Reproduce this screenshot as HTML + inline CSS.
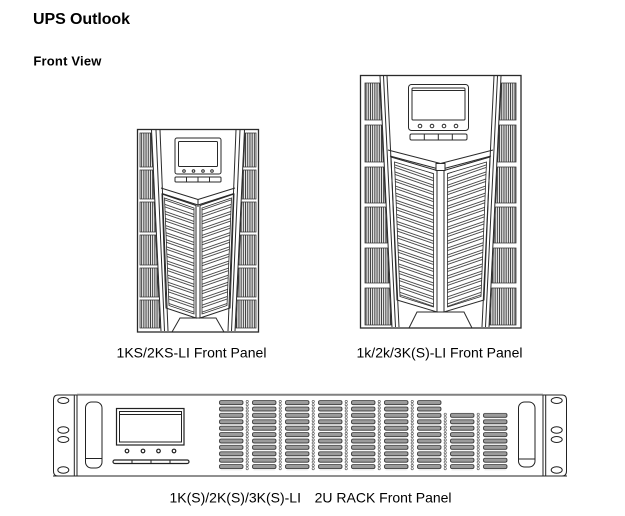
<!DOCTYPE html>
<html><head><meta charset="utf-8"><style>
html,body{margin:0;padding:0;background:#fff;}
svg{display:block;}
text{font-family:"Liberation Sans",Arial,sans-serif;fill:#000;}
</style></head><body>
<svg width="625" height="516" viewBox="0 0 625 516" xmlns="http://www.w3.org/2000/svg">
<defs>
<pattern id="vs" x="0" y="0" width="2.2" height="10" patternUnits="userSpaceOnUse"><rect x="0.3" y="0" width="1.1" height="10" fill="#3a3a3a"/></pattern>
<pattern id="lv" width="12" height="6.6" patternUnits="userSpaceOnUse" patternTransform="rotate(19)"><path d="M0 1H12M0 3.4H12" stroke="#333" stroke-width="0.8" fill="none"/></pattern>
<pattern id="rk" x="219" y="400" width="33" height="6.4" patternUnits="userSpaceOnUse">
<rect x="0.5" y="0.6" width="23.5" height="4" rx="1.6" fill="#9c9c9c" stroke="#2a2a2a" stroke-width="0.8"/>
<circle cx="28.2" cy="1.5" r="1.15" fill="#fff" stroke="#444" stroke-width="0.6"/>
<circle cx="28.2" cy="4.6" r="1.15" fill="#fff" stroke="#444" stroke-width="0.6"/>
</pattern>
</defs>

<!-- Titles -->
<text x="33" y="24" font-size="16" font-weight="bold" textLength="97">UPS Outlook</text>
<text x="33.4" y="65.5" font-size="13" font-weight="bold" textLength="68">Front View</text>

<!-- Small tower -->
<g fill="none" stroke="#2a2a2a" stroke-width="1">
<rect x="137.5" y="129.5" width="121" height="202.5" stroke-width="1.3"/>
<g id="sL">
 <g fill="url(#vs)" stroke="#333" stroke-width="0.8">
  <polygon points="140,133 150.9,133 152.5,167 140,167"/>
  <polygon points="140,170 152.6,170 154,199 140,199"/>
  <polygon points="140,202 154.1,202 155.5,232 140,232"/>
  <polygon points="140,235 155.7,235 157.1,265 140,265"/>
  <polygon points="140,268 157.2,268 158.6,297 140,297"/>
  <polygon points="140,300 158.7,300 160,328 140,328"/>
 </g>
 <path d="M151.5,130 L161,331 M156,130 L164.5,331 M160,130 L168,331"/>
 <path d="M161,188 L198,199.5 M162,193.5 L198,205"/>
 <polygon points="162,194 196,205.5 196,318 166,308"/>
 <polygon points="164.5,198 194,208 194,314 169,305.5" fill="url(#lv)" stroke-width="0.8"/>
</g>
<use href="#sL" transform="matrix(-1,0,0,1,396,0)"/>
<rect x="175" y="138" width="46" height="36" rx="2"/>
<rect x="178.5" y="141.5" width="39" height="25" rx="1"/>
<g fill="#fff" stroke-width="1"><circle cx="184" cy="171" r="1.3"/><circle cx="193.5" cy="171" r="1.3"/><circle cx="203" cy="171" r="1.3"/><circle cx="212" cy="171" r="1.3"/></g>
<rect x="175" y="177" width="46" height="5" rx="1"/>
<path d="M186.5,177V182 M198,177V182 M209.5,177V182"/>
<path d="M198,199.5V207"/>
<path d="M172,332 L180,318 H216 L224,332"/>
</g>

<!-- Tall tower -->
<g fill="none" stroke="#2a2a2a" stroke-width="1">
<rect x="360.5" y="75.5" width="160.5" height="252.5" stroke-width="1.3"/>
<g id="tL">
 <g fill="url(#vs)" stroke="#333" stroke-width="0.8">
  <polygon points="365,83 379.6,83 381.3,120 365,120"/>
  <polygon points="365,125 381.6,125 383.3,162 365,162"/>
  <polygon points="365,167 383.6,167 385.3,203 365,203"/>
  <polygon points="365,207 385.5,207 387.2,243 365,243"/>
  <polygon points="365,248 387.4,248 389.1,283 365,283"/>
  <polygon points="365,288 389.3,288 391.1,325 365,325"/>
 </g>
 <path d="M380,76 L392,327 M383.5,76 L395.5,327 M387,76 L399,327"/>
 <path d="M388,150 L440.5,163.5 M390,156 L440.5,169.5"/>
 <polygon points="391,157 437,170.5 437,312 397,300"/>
 <polygon points="394.5,162 433.5,173.5 433.5,307 400,296.5" fill="url(#lv)" stroke-width="0.8"/>
</g>
<use href="#tL" transform="matrix(-1,0,0,1,881,0)"/>
<rect x="408.5" y="84.5" width="60" height="46" rx="3"/>
<rect x="412" y="88" width="53" height="32" rx="1"/>
<path d="M412,90.5H465"/>
<g fill="#fff" stroke-width="1"><circle cx="420" cy="126" r="1.8"/><circle cx="432" cy="126" r="1.8"/><circle cx="444" cy="126" r="1.8"/><circle cx="456" cy="126" r="1.8"/></g>
<rect x="410" y="134" width="57" height="6" rx="1.5"/>
<path d="M424.3,134V140 M438.3,134V140 M452.3,134V140"/>
<rect x="436" y="163.5" width="9" height="7" fill="#fff"/>
<path d="M409,328 L417,312 H464 L472,328"/>
</g>

<!-- Labels -->
<text x="116.5" y="357.5" font-size="14" textLength="150">1KS/2KS-LI Front Panel</text>
<text x="356.5" y="357.5" font-size="14" textLength="166">1k/2k/3K(S)-LI Front Panel</text>

<!-- Rack -->
<g fill="none" stroke="#222" stroke-width="1">
<path d="M77,395 H58 Q53.5,395 53.5,400 V471 Q53.5,476 58,476 H77"/>
<path d="M543,395 H562 Q566.5,395 566.5,400 V471 Q566.5,476 562,476 H543"/>
<line x1="77" y1="394.8" x2="543" y2="394.8" stroke="#808080" stroke-width="2"/>
<line x1="53" y1="476" x2="567" y2="476"/>
<path d="M74.3,395V476 M77,395V476 M543,395V476 M545.7,395V476"/>
<g stroke-width="1">
<ellipse cx="63.3" cy="400.5" rx="5.5" ry="3"/>
<ellipse cx="63.3" cy="430" rx="5.5" ry="3.2"/>
<ellipse cx="63.3" cy="439.5" rx="5.5" ry="3"/>
<ellipse cx="63.3" cy="470" rx="5.5" ry="3.2"/>
<ellipse cx="556.7" cy="400.5" rx="5.5" ry="3"/>
<ellipse cx="556.7" cy="430" rx="5.5" ry="3.2"/>
<ellipse cx="556.7" cy="439.5" rx="5.5" ry="3"/>
<ellipse cx="556.7" cy="470" rx="5.5" ry="3.2"/>
</g>
<rect x="85.5" y="402" width="16.5" height="66" rx="6"/>
<path d="M85.5,458.5H102"/>
<rect x="518.5" y="402" width="16.5" height="65" rx="6"/>
<path d="M518.5,459H535"/>
<rect x="116.5" y="408.5" width="67.5" height="36.5" stroke-width="1.2"/>
<rect x="119.5" y="411.5" width="62" height="30.5"/>
<path d="M119.5,414.5H181.5"/>
<g fill="#fff" stroke-width="1.2"><circle cx="127" cy="451" r="1.8"/><circle cx="143" cy="451" r="1.8"/><circle cx="158.5" cy="451" r="1.8"/><circle cx="174" cy="451" r="1.8"/></g>
<rect x="113" y="460" width="76" height="3.5" rx="1.7" stroke-width="1.2"/>
<path d="M132,460V463.5 M151,460V463.5 M170,460V463.5"/>
</g>
<rect x="219" y="400" width="198" height="70.4" fill="url(#rk)"/>
<rect x="417" y="400" width="25" height="12.8" fill="url(#rk)"/>
<rect x="417" y="412.8" width="91" height="57.6" fill="url(#rk)"/>

<text x="169.5" y="502.5" font-size="14">1K(S)/2K(S)/3K(S)-LI</text>
<text x="314.6" y="502.5" font-size="14">2U RACK Front Panel</text>
</svg>
</body></html>
